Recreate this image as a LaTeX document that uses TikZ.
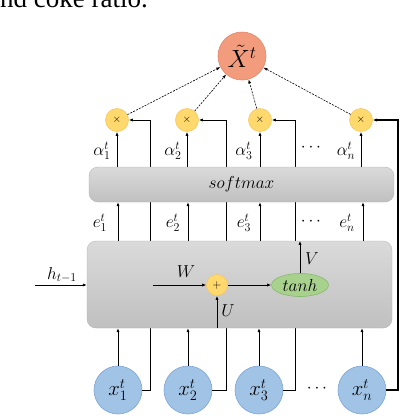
\documentclass[tikz,border=0pt]{standalone}
\usepackage{fontspec}
\newfontfamily\capfont{Liberation Serif}
\usetikzlibrary{arrows.meta,shapes.geometric}
\definecolor{xtfill}{RGB}{242,155,125}
\definecolor{xtdraw}{RGB}{228,135,105}
\definecolor{mulfill}{RGB}{255,217,110}
\definecolor{muldraw}{RGB}{248,200,95}
\definecolor{tanhfill}{RGB}{169,209,142}
\definecolor{tanhdraw}{RGB}{135,185,110}
\definecolor{xfill}{RGB}{160,195,230}
\definecolor{xdraw}{RGB}{125,165,215}
\definecolor{boxtop}{RGB}{218,218,218}
\definecolor{boxbot}{RGB}{192,192,192}
\tikzset{
  arr/.style={line width=0.8pt,-{Latex[length=4pt,width=3.2pt]}},
  fb/.style={line width=0.8pt,-{Latex[length=4pt,width=3.2pt]}},
  dsh/.style={line width=0.6pt,dash pattern=on 2pt off 1.2pt,-{Latex[length=4pt,width=3pt]}},
  xtnode/.style={circle,fill=xtfill,draw=xtdraw,line width=0.6pt,minimum size=48pt,inner sep=0pt,font=\fontsize{23}{24}\selectfont},
  mul/.style={circle,fill=mulfill,draw=muldraw,line width=0.6pt,minimum size=23pt,inner sep=0pt,font=\fontsize{11}{11}\selectfont},
  plusnode/.style={circle,fill=mulfill,draw=muldraw,line width=0.6pt,minimum size=21pt,inner sep=0pt,font=\fontsize{12}{12}\selectfont},
  tanhnode/.style={ellipse,fill=tanhfill,draw=tanhdraw,line width=0.6pt,minimum width=57pt,minimum height=23pt,inner sep=0pt,font=\fontsize{18}{18}\selectfont},
  xnode/.style={circle,fill=xfill,draw=xdraw,line width=0.6pt,minimum size=48pt,inner sep=0pt,font=\fontsize{22}{22}\selectfont},
  gbox/.style={rounded corners=9pt,top color=boxtop,bottom color=boxbot,draw=boxbot!90!black,line width=0.3pt,inner sep=0pt,font=\fontsize{18.5}{18}\selectfont},
  lbl/.style={font=\fontsize{18.5}{18}\selectfont,inner sep=0pt}
}
\begin{document}
\begin{tikzpicture}[x=1pt,y=-1pt]
\useasboundingbox (0,0) rectangle (402,416);
% caption fragment
\node[anchor=base west,inner sep=0pt,font=\capfont\fontsize{27}{27}\selectfont] (cap) at (-12,7) {and coke ratio.};
% feedback corner points
\coordinate (f1) at (150,120);
\coordinate (f2) at (226,120);
\coordinate (f3) at (295,120);
\coordinate (fn) at (398,120);
\coordinate (c3) at (260,0);
\coordinate (cn) at (363,0);
% nodes
\node[xnode] (x1) at (118,390) {$x_1^t$};
\node[xnode] (x2) at (188,390) {$x_2^t$};
\node[xnode] (x3) at (259,390) {$x_3^t$};
\node[xnode] (xn) at (362,390) {$x_n^t$};
\node[mul] (m1) at (117,120) {$\times$};
\node[mul] (m2) at (187,120) {$\times$};
\node[mul] (m3) at (260,120) {$\times$};
\node[mul] (mn) at (361,120) {$\times$};
\draw[fb] (x1.east) -| (f1) -- (m1.east);
\draw[fb] (x2.east) -| (f2) -- (m2.east);
\draw[fb] (x3.east) -| (f3) -- (m3.east);
\draw[fb,line width=1.6pt] (xn.east) -| (fn) -- (mn.east);
\node[gbox,minimum width=305pt,minimum height=35pt] (sm) at (241.5,184.5) {$softmax$};
\node[gbox,minimum width=305pt,minimum height=87pt] (att) at (239.5,284.5) {};
\node[xtnode] (X) at (242,56) {$\tilde{X}^t$};
\node[plusnode] (plus) at (217,285) {$+$};
\node[tanhnode] (tanh) at (300,285) {$tanh$};
% dashed to output
\draw[dsh] (m1) -- (X);
\draw[dsh] (m2) -- (X);
\draw[dsh] (m3) -- (X);
\draw[dsh] (mn) -- (X);
% x -> attention box
\draw[arr] (x1) -- (x1 |- att.south);
\draw[arr] (x2) -- (x2 |- att.south);
\draw[arr] (x3) -- (x3 |- att.south);
\draw[arr] (xn) -- (xn |- att.south);
% e arrows
\draw[arr] (x1 |- att.north) -- (x1 |- sm.south);
\draw[arr] (x2 |- att.north) -- (x2 |- sm.south);
\draw[arr] (c3 |- att.north) -- (c3 |- sm.south);
\draw[arr] (cn |- att.north) -- (cn |- sm.south);
% alpha arrows
\draw[arr] (m1 |- sm.north) -- (m1);
\draw[arr] (m2 |- sm.north) -- (m2);
\draw[arr] (m3 |- sm.north) -- (m3);
\draw[arr] (mn |- sm.north) -- (mn);
% inside attention
\coordinate (hin) at (35,285);
\coordinate (win) at (153,285);
\draw[arr] (hin) -- (att.west |- hin);
\draw[arr] (win) -- (plus);
\draw[arr] (plus) -- (tanh);
\draw[arr] (tanh) -- (tanh |- att.north);
\draw[arr] (plus |- att.south) -- (plus);
% labels
\node[lbl] (lh) at (62,275) {$h_{t-1}$};
\node[lbl] (lw) at (186,272) {$W$};
\node[lbl] (lv) at (312,259) {$V$};
\node[lbl] (lu) at (228,311) {$U$};
\node[lbl] (a1) at (102,151) {$\alpha_1^t$};
\node[lbl] (a2) at (173,151) {$\alpha_2^t$};
\node[lbl] (a3) at (244,151) {$\alpha_3^t$};
\node[lbl] (ad) at (311,148) {$\cdots$};
\node[lbl] (an) at (346,151) {$\alpha_n^t$};
\node[lbl] (e1) at (100,223) {$e_1^t$};
\node[lbl] (e2) at (173,223) {$e_2^t$};
\node[lbl] (e3) at (244,223) {$e_3^t$};
\node[lbl] (ed) at (311,222) {$\cdots$};
\node[lbl] (en) at (347,223) {$e_n^t$};
\node[lbl] (xd) at (317,389) {$\cdots$};
\end{tikzpicture}
\end{document}
